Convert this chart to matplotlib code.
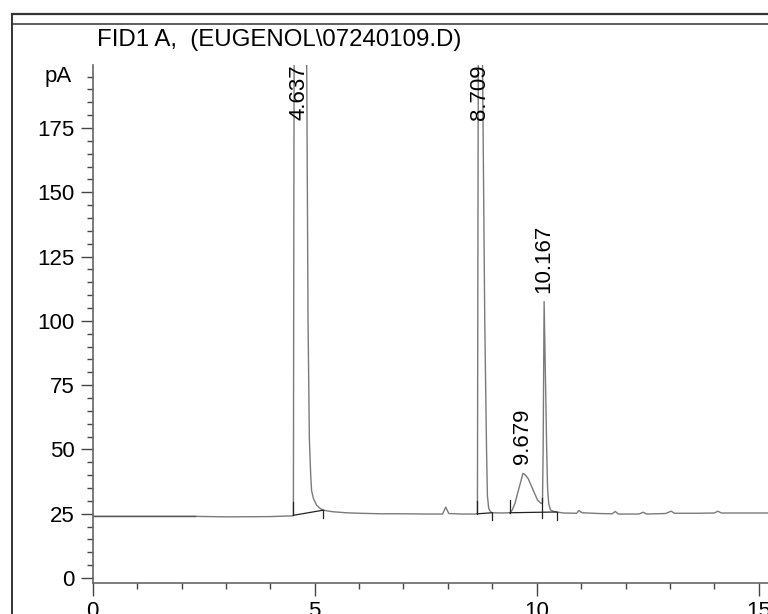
import matplotlib
matplotlib.use("Agg")
import matplotlib.pyplot as plt
from matplotlib.lines import Line2D
from matplotlib.ticker import MultipleLocator
import matplotlib.transforms as mtrans

plt.rcParams['font.family'] = ['Liberation Sans', 'DejaVu Sans']

# chromatogram trace (min, pA); tops of the two big peaks run off scale
time_min = [0.00, 1.00, 2.30, 3.00, 4.00, 4.50, 4.52, 4.53, 4.54, 4.637, 4.75, 4.82,
            4.85, 4.88, 4.91, 4.93, 4.97, 5.04, 5.12, 5.19, 5.40, 5.70, 6.00, 6.50,
            7.00, 7.50, 7.88, 7.95, 8.02, 8.30, 8.60, 8.665, 8.675, 8.69, 8.709, 8.74,
            8.78, 8.83, 8.87, 8.89, 8.92, 8.96, 9.00, 9.20, 9.40, 9.45, 9.51, 9.57,
            9.63, 9.69, 9.75, 9.81, 9.92, 10.02, 10.10, 10.13, 10.145, 10.167, 10.20,
            10.225, 10.245, 10.27, 10.31, 10.40, 10.60, 10.90, 10.95, 11.02, 11.40,
            11.70, 11.77, 11.84, 12.30, 12.40, 12.47, 12.90, 13.03, 13.10, 13.60,
            14.00, 14.08, 14.16, 14.60, 15.30]
signal_pa = [24.0, 24.0, 24.0, 23.8, 23.9, 24.2, 24.4, 140, 230, 1500, 900, 200,
             100, 54, 40, 34, 31, 28.4, 27.1, 26.4, 25.8, 25.4, 25.2, 25.0,
             25.0, 24.9, 24.9, 27.6, 25.1, 24.9, 24.9, 25.0, 120, 250, 900, 400,
             200, 100, 50, 32, 27.0, 25.8, 25.4, 25.3, 25.4, 26.5, 29.0, 33.0,
             36.8, 40.7, 40.0, 38.6, 34.2, 30.3, 29.0, 29.2, 50, 107.5, 75,
             50, 35, 29, 26.5, 25.8, 25.3, 25.2, 26.3, 25.4, 25.1,
             25.0, 25.9, 24.9, 24.9, 25.6, 24.9, 25.1, 26.0, 25.2, 25.2,
             25.3, 26.0, 25.3, 25.3, 25.3]

# retention time labels
peak_rt = [4.637, 8.709, 9.679, 10.167]
peak_top = [1500, 900, 40.7, 107.5]
peak_x = [4.637, 8.709, 9.69, 10.167]

# integration baselines (start time, start pA, end time, end pA)
base_t0 = [4.52, 8.665, 9.40]
base_y0 = [24.4, 25.0, 25.4]
base_t1 = [5.19, 9.00, 10.45]
base_y1 = [26.4, 25.4, 25.7]
drop_t = [10.13]
drop_y = [29.2]

W, H = 768, 614
fig = plt.figure(figsize=(W / 100, H / 100), dpi=100)
fig.patch.set_facecolor('white')

# page frame
fig.add_artist(Line2D([12 / W, 1], [1 - 14 / H, 1 - 14 / H], color='#333333', lw=1.6))
fig.add_artist(Line2D([12 / W, 1], [1 - 24 / H, 1 - 24 / H], color='#444444', lw=1.2))
fig.add_artist(Line2D([12 / W, 12 / W], [0, 1 - 14 / H], color='#333333', lw=1.4))

left, bottom, top = 92.7, 582.7, 65
ax = fig.add_axes([left / W, (H - bottom) / H, 1 - left / W, (bottom - top) / H])
ax.set_xlim(0, (W - left) / 44.4)
ax.set_ylim(-1.8, 199.5)

ax.plot(time_min, signal_pa, color='#7a7a7a', lw=1.0)
ax.plot([0, 2.3], [24.0, 24.0], color='#555555', lw=1.0)

for t0, y0, t1, y1 in zip(base_t0, base_y0, base_t1, base_y1):
    ax.plot([t0, t1], [y0, y1], color='#222222', lw=0.9)
    ax.plot([t0, t0], [y0, y0 + 5], color='#222222', lw=0.9)
    ax.plot([t1, t1], [y1, y1 - 3], color='#222222', lw=0.9)
for t, y in zip(drop_t, drop_y):
    ax.plot([t, t], [y + 2, 23.5], color='#222222', lw=0.9)

ylo, yhi = ax.get_ylim()
for rt, h, x in zip(peak_rt, peak_top, peak_x):
    y = 178 if h > yhi else h + 3.5
    ax.text(x, y, f"{rt:.3f}", rotation=90, ha='center', va='bottom',
            fontsize=16, color='black')

for s in ['top', 'right']:
    ax.spines[s].set_visible(False)
for s in ['left', 'bottom']:
    ax.spines[s].set_color('#666666')
    ax.spines[s].set_linewidth(1.2)

ax.xaxis.set_major_locator(MultipleLocator(5))
ax.xaxis.set_minor_locator(MultipleLocator(1))
ax.yaxis.set_major_locator(MultipleLocator(25))
ax.yaxis.set_minor_locator(MultipleLocator(5))
ax.tick_params(which='major', length=9, width=1.0, color='#444444', labelsize=16, pad=4)
ax.tick_params(which='minor', length=4.5, width=1.0, color='#444444')
ax.tick_params(axis='x', which='both', direction='out')

tr = mtrans.blended_transform_factory(fig.transFigure, ax.transData)
ax.text(72 / W, 195, 'pA', transform=tr, ha='right', va='center', fontsize=16)

fig.text(97 / W, 1 - 40 / H, 'FID1 A,  (EUGENOL\\07240109.D)', ha='left', va='center',
         fontsize=17.3)

fig.savefig('out.png', dpi=100)
